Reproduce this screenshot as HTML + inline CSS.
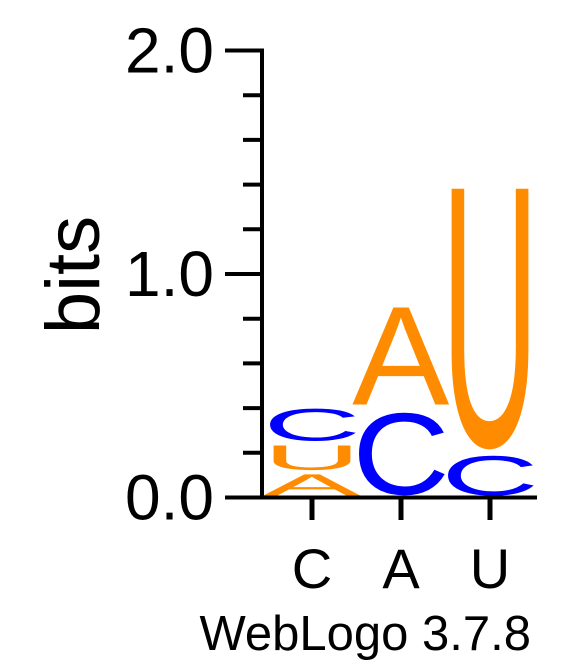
<!DOCTYPE html>
<html><head><meta charset="utf-8"><style>
html,body{margin:0;padding:0;background:#fff;}
svg{display:block;font-family:"Liberation Sans",Arial,sans-serif;}
</style></head><body>
<svg id="logo" width="583" height="667" viewBox="0 0 583 667" xmlns="http://www.w3.org/2000/svg">
<g id="axes"></g>
<g id="stacks"></g>
<text x="0" y="0" font-size="76" transform="translate(99,275) rotate(-90)" text-anchor="middle">bits</text>
<text x="531" y="650" font-size="49" text-anchor="end">WebLogo 3.7.8</text>
</svg>
<script>
const positions = ['C','A','U'];
const stackLetters = [['A','U','C'],['C','A'],['C','U']];
const stackBits = [[0.115,0.13,0.165],[0.40,0.48],[0.20,1.25]];
const yTicks = [0,1,2];
const yTickLabels = ['0.0','1.0','2.0'];
const minorStep = 0.2;
const colors = {A:'#ff8c00', U:'#ff8c00', C:'#0000ff', G:'#ffa500'};

const NS='http://www.w3.org/2000/svg';
const y0=497.5, pxPerBit=223.5, axisX=262;
const y = b => y0 - b*pxPerBit;
const colCenter = i => 312 + i*89;
const colW = 84;
const axes=document.getElementById('axes');
function mk(tag, attrs, parent){const e=document.createElementNS(NS,tag);for(const k in attrs)e.setAttribute(k,attrs[k]);parent.appendChild(e);return e;}

let l=mk('line',{x1:axisX,y1:y(2)-2,x2:axisX,y2:y0+2,stroke:'#000','stroke-width':4},axes);


l=mk('line',{x1:225,y1:y0,x2:537,y2:y0,stroke:'#000','stroke-width':4},axes);


for(let v=0; v<=2.0001; v+=minorStep){
  const major = Math.abs(v-Math.round(v))<1e-6;
  const t=mk('line',{x1:major?225:243,y1:y(v),x2:axisX,y2:y(v),stroke:'#000','stroke-width':4},axes);
  
  
}
yTicks.forEach((v,i)=>{
  const t=mk('text',{x:214,y:y(v)+22,'font-size':64,'text-anchor':'end'},axes);
  t.textContent=yTickLabels[i];
  
  
});
positions.forEach((p,i)=>{
  const t=mk('line',{x1:colCenter(i),y1:y0,x2:colCenter(i),y2:520,stroke:'#000','stroke-width':5},axes);
  
  
  const tx=mk('text',{x:colCenter(i),y:588,'font-size':56,'text-anchor':'middle'},axes);
  tx.textContent=p;
  
  
});

const stacks=document.getElementById('stacks');
stackLetters.forEach((letters,i)=>{
  let cum=0;
  letters.forEach((L,j)=>{
    const h=stackBits[i][j];
    const bot=y(cum)-1.5, top=y(cum+h)+1.5;
    cum+=h;
    const t=mk('text',{x:0,y:0,'font-size':100,fill:colors[L]},stacks);
    t.textContent=L;
    
    
    const bb=t.getBBox();
    const gTop=-72.5, gBot=1.5, gw=bb.width*0.86, gx=bb.x+bb.width*0.07;
    const sx=colW/gw, sy=(bot-top)/(gBot-gTop);
    const left=colCenter(i)-colW/2;
    t.setAttribute('transform',`translate(${left - gx*sx},${top - gTop*sy}) scale(${sx},${sy})`);
  });
});
</script>
</body></html>
